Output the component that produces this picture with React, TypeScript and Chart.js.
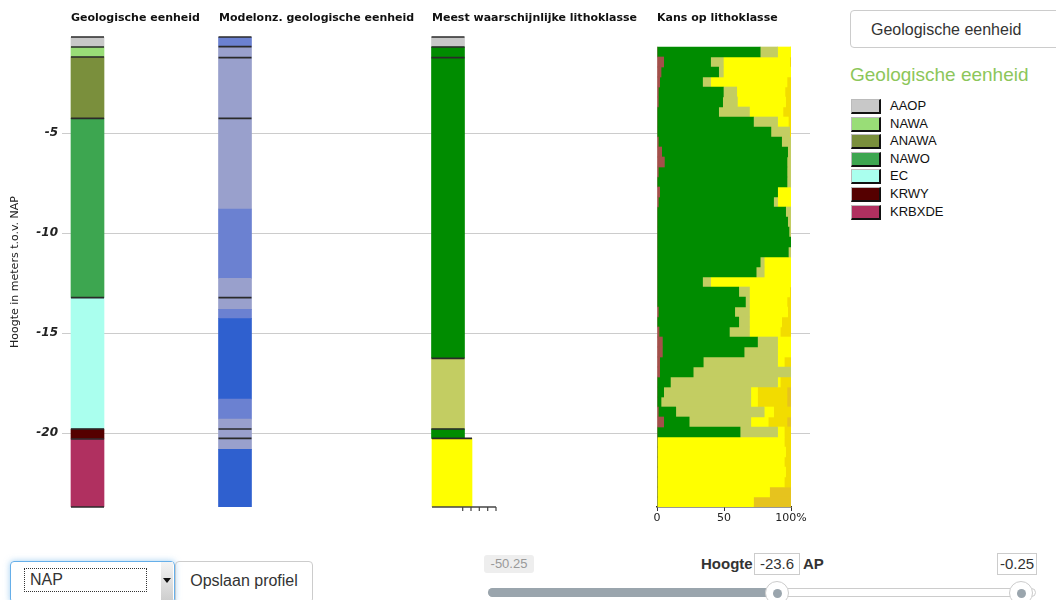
import React, { useEffect, useRef } from 'react';
import { Chart, registerables } from 'chart.js';

Chart.register(...registerables);

// ---------- Data ----------
// Column 1: Geologische eenheid
const GEO_UNITS = ['AAOP', 'NAWA', 'ANAWA', 'NAWO', 'EC', 'KRWY', 'KRBXDE'];
const GEO_COLORS = ['#c8c8c8', '#99dd77', '#7a8f3c', '#3da650', '#aaffee', '#550000', '#b03060'];
const GEO_TOP = [-0.2, -0.7, -1.2, -4.27, -13.23, -19.8, -20.3];
const GEO_BOTTOM = [-0.7, -1.2, -4.27, -13.23, -19.8, -20.3, -23.7];
const GEO_BOUNDARIES = [-0.2, -0.7, -1.2, -4.27, -13.23, -19.8, -20.3, -23.7];

// Column 2: Modelonzekerheid geologische eenheid
const MODEL_TOP = [-0.2, -0.68, -8.8, -12.27, -13.82, -14.28, -18.3, -19.3, -20.82];
const MODEL_BOTTOM = [-0.68, -8.8, -12.27, -13.82, -14.28, -18.3, -19.3, -20.82, -23.7];
const MODEL_CLASS = ['mid', 'light', 'mid', 'light', 'mid', 'dark', 'mid', 'light', 'dark'];
const MODEL_BOUNDARIES = [-0.2, -0.68, -1.23, -4.27, -13.23, -19.8, -20.27];

// Column 3: Meest waarschijnlijke lithoklasse
const LITHO_TOP = [-0.2, -0.7, -16.27, -19.8];
const LITHO_BOTTOM = [-0.7, -16.27, -19.8, -20.27];
const LITHO_CLASS = ['antropogeen', 'klei', 'zandige klei', 'klei'];
const LITHO_SAND_TOP = [-20.27];
const LITHO_SAND_BOTTOM = [-23.7];
const LITHO_SAND_CLASS = ['fijn zand'];
const LITHO_BOUNDARIES = [-0.2, -0.7, -1.23, -16.27, -19.8];
const LITHO_SAND_BOUNDARIES = [-20.27];

// Column 4: Kans op lithoklasse (row centres, metres NAP)
const KANS_DEPTHS = [
  -0.95, -1.45, -1.95, -2.45, -2.95, -3.45, -3.95, -4.45, -4.95, -5.45,
  -5.95, -6.45, -6.95, -7.45, -7.95, -8.45, -8.95, -9.45, -9.95, -10.45,
  -10.95, -11.45, -11.95, -12.45, -12.95, -13.45, -13.95, -14.45, -14.95, -15.45,
  -15.95, -16.45, -16.95, -17.45, -17.95, -18.45, -18.95, -19.45, -19.95, -20.45,
  -20.95, -21.45, -21.95, -22.45, -22.95, -23.45,
];
const KANS_VEEN = [0, 5, 3, 2, 1, 1, 0, 0, 0, 1, 3.5, 5.5, 1, 0, 2, 1, 0, 0, 0, 0, 0, 0, 0, 0, 0, 0, 1, 0, 1.5, 4, 4, 2, 2, 0, 0, 0, 1, 5, 0, 0, 0, 0, 0, 0, 0, 0];
const KANS_KLEI = [77, 35, 43, 32, 48.5, 48, 46, 72, 85, 92, 94, 91.5, 96, 97, 88, 86, 96, 97.5, 98.5, 100, 98, 77, 74, 34, 61, 66, 57, 61, 52.5, 71, 61, 32.5, 25, 10, 5, 3, 13, 19, 62, 0, 0, 0, 0, 0, 0, 0];
const KANS_ZANDIGE_KLEI = [13, 9.5, 3.5, 6, 10, 11, 23, 18, 14, 7, 2.5, 3, 3, 3, 0, 3, 4, 2.5, 1.5, 0, 2, 3, 6, 6, 8, 3, 11, 8, 15, 15, 25, 55.5, 73, 80, 65, 67, 66, 46, 28, 0, 0, 0, 0, 0, 0, 0];
const KANS_FIJN_ZAND = [10, 49.5, 50.5, 57, 36, 36, 25, 8, 0, 0, 0, 0, 0, 0, 10, 10, 0, 0, 0, 0, 0, 20, 20, 60, 30, 28, 28.5, 24, 23, 10, 10, 5, 0, 2, 5, 5, 7, 13, 5, 95, 96, 95, 96, 95, 84, 72];
const KANS_MIDDEL_ZAND = [0, 1, 0, 3, 4.5, 4, 6, 2, 1, 0, 0, 0, 0, 0, 0, 0, 0, 0, 0, 0, 0, 0, 0, 0, 1, 3, 2.5, 7, 8, 0, 0, 5, 0, 8, 22, 22, 13, 14, 5, 5, 4, 5, 4, 5, 0, 0];
const KANS_GROF_ZAND = [0, 0, 0, 0, 0, 0, 0, 0, 0, 0, 0, 0, 0, 0, 0, 0, 0, 0, 0, 0, 0, 0, 0, 0, 0, 0, 0, 0, 0, 0, 0, 0, 0, 0, 3, 3, 0, 3, 0, 0, 0, 0, 0, 0, 16, 28];

const KANS_TICKS = [0, 50, 100];
const Y_TICK_STEP = 5;
const Y_MIN = -23.7;
const Y_MAX = -0.2;

const COLUMN_TITLES = [
  'Geologische eenheid',
  'Modelonz. geologische eenheid',
  'Meest waarschijnlijke lithoklasse',
  'Kans op lithoklasse',
];

// ---------- Styles / layout ----------
const MODEL_COLORS: Record<string, string> = { light: '#99a0cc', mid: '#6b81d1', dark: '#2f60cf' };
const LITHO_COLORS: Record<string, string> = {
  antropogeen: '#c8c8c8',
  veen: '#a3504a',
  klei: '#008c00',
  'zandige klei': '#c3cd62',
  'fijn zand': '#ffff00',
  'middel zand': '#f2dc00',
  'grof zand': '#e6c31e',
};
const COL_X = { geo: 87.5, model: 235, litho: 448, sand: 452 };
const MINI_AXIS_X = [432, 496];
const MINI_TICKS_X = [462.7, 471, 479.3, 487.7, 496];
const TITLE_LEFT = [71, 219, 432, 657];
const LINE_COLOR = '#2a2a2a';

function boundaryPoints(values: number[], x: number) {
  return values.map((y) => ({ x, y }));
}

export default function App() {
  const mainRef = useRef<HTMLCanvasElement | null>(null);
  const kansRef = useRef<HTMLCanvasElement | null>(null);

  useEffect(() => {
    if (!mainRef.current || !kansRef.current) return;

    const lineDs = (values: number[], x: number, radius: number) => ({
      type: 'scatter' as const,
      data: boundaryPoints(values, x),
      pointStyle: 'line',
      pointRadius: radius,
      pointBorderColor: LINE_COLOR,
      pointBorderWidth: 1.6,
      pointBackgroundColor: LINE_COLOR,
      showLine: false,
      clip: false as any,
    });

    const main = new Chart(mainRef.current, {
      type: 'bar',
      data: {
        datasets: [
          lineDs(GEO_BOUNDARIES, COL_X.geo, 16.5) as any,
          lineDs(MODEL_BOUNDARIES, COL_X.model, 16.5) as any,
          lineDs(LITHO_BOUNDARIES, COL_X.litho, 16.5) as any,
          lineDs(LITHO_SAND_BOUNDARIES, COL_X.sand, 20) as any,
          {
            type: 'line',
            data: MINI_AXIS_X.map((x) => ({ x, y: Y_MIN })),
            borderColor: '#444',
            borderWidth: 1.5,
            pointRadius: 0,
            clip: false,
          } as any,
          {
            type: 'scatter',
            data: MINI_TICKS_X.map((x) => ({ x, y: Y_MIN - 0.1 })),
            pointStyle: 'line',
            pointRotation: 90,
            pointRadius: 2,
            pointBorderColor: '#444',
            pointBorderWidth: 1.2,
            showLine: false,
            clip: false,
          } as any,
          {
            label: 'Geologische eenheid',
            data: GEO_TOP.map((t, i) => ({ x: COL_X.geo, y: [GEO_BOTTOM[i], t] })),
            backgroundColor: GEO_COLORS,
            barThickness: 33,
            borderWidth: 0,
            grouped: false,
          } as any,
          {
            label: 'Modelonzekerheid',
            data: MODEL_TOP.map((t, i) => ({ x: COL_X.model, y: [MODEL_BOTTOM[i], t] })),
            backgroundColor: MODEL_CLASS.map((c) => MODEL_COLORS[c]),
            barThickness: 33,
            borderWidth: 0,
            grouped: false,
          } as any,
          {
            label: 'Lithoklasse',
            data: LITHO_TOP.map((t, i) => ({ x: COL_X.litho, y: [LITHO_BOTTOM[i], t] })),
            backgroundColor: LITHO_CLASS.map((c) => LITHO_COLORS[c]),
            barThickness: 33,
            borderWidth: 0,
            grouped: false,
          } as any,
          {
            label: 'Lithoklasse zand',
            data: LITHO_SAND_TOP.map((t, i) => ({ x: COL_X.sand, y: [LITHO_SAND_BOTTOM[i], t] })),
            backgroundColor: LITHO_SAND_CLASS.map((c) => LITHO_COLORS[c]),
            barThickness: 40,
            borderWidth: 0,
            grouped: false,
          } as any,
        ],
      },
      options: {
        animation: false,
        responsive: false,
        events: [],
        layout: { autoPadding: false, padding: { top: 37, bottom: 23, right: 10, left: 0 } },
        plugins: { legend: { display: false }, tooltip: { enabled: false } },
        scales: {
          x: { type: 'linear', min: 70, max: 810, display: false, offset: false },
          y: {
            type: 'linear',
            min: Y_MIN,
            max: Y_MAX,
            afterFit: (s: any) => {
              s.width = 70;
            },
            ticks: {
              stepSize: Y_TICK_STEP,
              includeBounds: false,
              color: '#222',
              padding: 4,
              font: { family: '"DejaVu Sans"', size: 12, weight: 'bold', style: 'italic' },
            },
            grid: { color: '#cccccc', tickLength: 8, lineWidth: 1 },
            border: { display: false },
            title: {
              display: true,
              text: 'Hoogte in meters t.o.v. NAP',
              color: '#222',
              font: { family: '"DejaVu Sans"', size: 11 },
              padding: { top: 9, bottom: 0 },
            },
          },
        },
      } as any,
    });

    const kansSeries = [
      { label: 'veen', values: KANS_VEEN },
      { label: 'klei', values: KANS_KLEI },
      { label: 'zandige klei', values: KANS_ZANDIGE_KLEI },
      { label: 'fijn zand', values: KANS_FIJN_ZAND },
      { label: 'middel zand', values: KANS_MIDDEL_ZAND },
      { label: 'grof zand', values: KANS_GROF_ZAND },
    ];

    const kans = new Chart(kansRef.current, {
      type: 'bar',
      data: {
        datasets: kansSeries.map((s) => ({
          label: s.label,
          data: s.values.map((v, i) => ({ x: v, y: KANS_DEPTHS[i] })),
          backgroundColor: LITHO_COLORS[s.label],
          borderWidth: 0,
          barPercentage: 1,
          categoryPercentage: 1,
        })),
      },
      options: {
        indexAxis: 'y',
        animation: false,
        responsive: false,
        events: [],
        layout: { padding: { top: 37, bottom: 0, left: 17, right: 29 } },
        plugins: { legend: { display: false }, tooltip: { enabled: false } },
        scales: {
          y: { type: 'linear', min: Y_MIN, max: Y_MAX, stacked: true, display: false, offset: false },
          x: {
            type: 'linear',
            min: 0,
            max: 100,
            stacked: true,
            position: 'bottom',
            afterFit: (s: any) => {
              s.height = 23;
            },
            afterBuildTicks: (s: any) => {
              s.ticks = KANS_TICKS.map((v) => ({ value: v }));
            },
            ticks: {
              color: '#222',
              padding: 1,
              maxRotation: 0,
              font: { family: '"DejaVu Sans"', size: 11 },
              callback: (v: any) => (v === 100 ? '100%' : String(v)),
            },
            grid: { drawOnChartArea: false, drawTicks: true, tickLength: 4, color: '#333' },
            border: { display: true, color: '#333', width: 1.5 },
          },
        },
      } as any,
    });

    return () => {
      main.destroy();
      kans.destroy();
    };
  }, []);

  const sans = '"Liberation Sans", Arial, Helvetica, sans-serif';

  return (
    <div
      style={{
        position: 'absolute',
        left: 0,
        top: 0,
        width: 1056,
        height: 600,
        overflow: 'hidden',
        background: '#fff',
        fontFamily: sans,
      }}
    >
      <canvas ref={mainRef} width={820} height={530} style={{ position: 'absolute', left: 0, top: 0 }} />
      <canvas ref={kansRef} width={180} height={530} style={{ position: 'absolute', left: 640, top: 0 }} />

      {COLUMN_TITLES.map((t, i) => (
        <div
          key={t}
          style={{
            position: 'absolute',
            left: TITLE_LEFT[i],
            top: 11,
            font: 'bold 11px "DejaVu Sans"',
            lineHeight: '14px',
            color: '#111',
            whiteSpace: 'nowrap',
          }}
        >
          {t}
        </div>
      ))}

      {/* right side: dropdown button + legend */}
      <div
        style={{
          position: 'absolute',
          left: 850,
          top: 10,
          width: 230,
          height: 38,
          border: '1px solid #ccc',
          borderRadius: 4,
          boxSizing: 'border-box',
          fontSize: 16,
          lineHeight: '38px',
          paddingLeft: 20,
          color: '#333',
        }}
      >
        Geologische eenheid
      </div>
      <div
        style={{
          position: 'absolute',
          left: 850,
          top: 63,
          fontSize: 19,
          lineHeight: '24px',
          color: '#8cc65a',
          whiteSpace: 'nowrap',
        }}
      >
        Geologische eenheid
      </div>
      {GEO_UNITS.map((u, i) => (
        <div key={u} style={{ position: 'absolute', left: 851, top: 98 + i * 17.6, height: 16, whiteSpace: 'nowrap' }}>
          <div
            style={{
              position: 'absolute',
              left: 0,
              top: 1,
              width: 27,
              height: 12,
              background: GEO_COLORS[i],
              borderTop: '1px solid #bbb',
              borderLeft: '1px solid #bbb',
              borderRight: '2px solid #111',
              borderBottom: '2px solid #111',
            }}
          />
          <div style={{ position: 'absolute', left: 39, top: 0, fontSize: 13, lineHeight: '16px', color: '#111' }}>{u}</div>
        </div>
      ))}

      {/* bottom controls */}
      <div
        style={{
          position: 'absolute',
          left: 10,
          top: 561,
          width: 165,
          height: 42,
          boxSizing: 'border-box',
          border: '1px solid #66afe9',
          borderRadius: 4,
          boxShadow: '0 0 6px rgba(102,175,233,0.6)',
        }}
      >
        <div
          style={{
            position: 'absolute',
            left: 13,
            top: 6,
            width: 123,
            height: 24,
            border: '1px dotted #333',
            boxSizing: 'border-box',
            fontSize: 16,
            lineHeight: '22px',
            paddingLeft: 5,
            color: '#333',
          }}
        >
          NAP
        </div>
        <div
          style={{
            position: 'absolute',
            left: 150,
            top: 0,
            width: 12,
            height: 40,
            background: 'linear-gradient(#f4f4f4, #ccc)',
          }}
        />
        <div
          style={{
            position: 'absolute',
            left: 152,
            top: 16,
            width: 0,
            height: 0,
            borderLeft: '4px solid transparent',
            borderRight: '4px solid transparent',
            borderTop: '5px solid #111',
          }}
        />
      </div>
      <div
        style={{
          position: 'absolute',
          left: 175,
          top: 561,
          width: 138,
          height: 42,
          boxSizing: 'border-box',
          border: '1px solid #ccc',
          borderRadius: 4,
          fontSize: 16,
          lineHeight: '38px',
          textAlign: 'center',
          color: '#333',
        }}
      >
        Opslaan profiel
      </div>

      <div
        style={{
          position: 'absolute',
          left: 484,
          top: 555,
          width: 50,
          height: 18,
          background: '#eee',
          borderRadius: 3,
          color: '#999',
          fontSize: 13,
          lineHeight: '18px',
          textAlign: 'center',
        }}
      >
        -50.25
      </div>
      <div style={{ position: 'absolute', left: 701, top: 555, fontSize: 15, fontWeight: 'bold', lineHeight: '18px', color: '#333' }}>
        Hoogte
      </div>
      <div
        style={{
          position: 'absolute',
          left: 754,
          top: 553,
          width: 46,
          height: 22,
          boxSizing: 'border-box',
          border: '1px solid #ccc',
          background: '#fff',
          fontSize: 15,
          lineHeight: '20px',
          textAlign: 'center',
          color: '#333',
        }}
      >
        -23.6
      </div>
      <div style={{ position: 'absolute', left: 803, top: 555, fontSize: 15, fontWeight: 'bold', lineHeight: '18px', color: '#333' }}>
        AP
      </div>
      <div
        style={{
          position: 'absolute',
          left: 997,
          top: 553,
          width: 40,
          height: 22,
          boxSizing: 'border-box',
          border: '1px solid #ccc',
          background: '#fff',
          fontSize: 15,
          lineHeight: '20px',
          textAlign: 'center',
          color: '#333',
        }}
      >
        -0.25
      </div>

      {/* slider */}
      <div
        style={{
          position: 'absolute',
          left: 488,
          top: 588,
          width: 548,
          height: 9,
          boxSizing: 'border-box',
          border: '1px solid #ccc',
          borderRadius: 5,
          background: '#fff',
        }}
      />
      <div
        style={{
          position: 'absolute',
          left: 488,
          top: 588,
          width: 290,
          height: 9,
          borderRadius: '5px 0 0 5px',
          background: '#9aa5ad',
        }}
      />
      {[777, 1021].map((cx) => (
        <div
          key={cx}
          style={{
            position: 'absolute',
            left: cx - 12,
            top: 581,
            width: 24,
            height: 24,
            boxSizing: 'border-box',
            borderRadius: '50%',
            border: '1px solid #ccc',
            background: '#fff',
          }}
        >
          <div
            style={{
              position: 'absolute',
              left: 6.5,
              top: 6.5,
              width: 9,
              height: 9,
              borderRadius: '50%',
              background: '#9aa5ad',
            }}
          />
        </div>
      ))}
    </div>
  );
}
